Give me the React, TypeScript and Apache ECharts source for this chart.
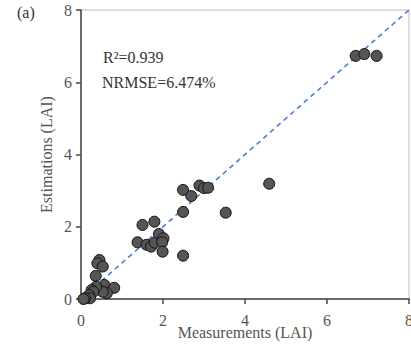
import React, { useEffect, useRef } from "react";
import * as echarts from "echarts";

const measurements = [6.70, 6.91, 7.21, 4.59, 3.53, 2.49, 2.69, 2.89, 3.00, 3.10, 2.49, 2.49, 1.50, 1.79, 1.38, 1.60, 1.71, 1.80, 1.90, 2.01, 1.98, 1.99, 0.45, 0.40, 0.53, 0.36, 0.57, 0.81, 0.63, 0.53, 0.37, 0.26, 0.30, 0.20, 0.22, 0.10, 0.06];
const estimations = [6.73, 6.78, 6.73, 3.19, 2.39, 3.02, 2.85, 3.14, 3.07, 3.08, 2.41, 1.20, 2.05, 2.14, 1.57, 1.50, 1.45, 1.56, 1.80, 1.68, 1.57, 1.31, 1.08, 0.99, 0.90, 0.64, 0.39, 0.31, 0.16, 0.20, 0.34, 0.25, 0.20, 0.11, 0.02, 0.02, 0.00];
const oneToOne = [0, 8];
const ticks = [0, 2, 4, 6, 8];
const statR2 = "R²=0.939";
const statNRMSE = "NRMSE=6.474%";
const panelLabel = "(a)";

const FONT = "'Liberation Serif', 'Times New Roman', serif";

export default function App() {
  const ref = useRef<HTMLDivElement>(null);
  useEffect(() => {
    if (!ref.current) return;
    const chart = echarts.init(ref.current, undefined, { renderer: "svg" });
    const axisCommon = {
      type: "value",
      min: ticks[0],
      max: ticks[ticks.length - 1],
      interval: 2,
      nameLocation: "middle",
      nameMoveOverlap: false,
      nameTextStyle: { fontFamily: FONT, fontSize: 16, color: "#555" },
      axisLine: { show: true, onZero: false, lineStyle: { color: "#444", width: 1.5 } },
      axisTick: { show: true, inside: false, length: 5, lineStyle: { color: "#444", width: 1.5 } },
      axisLabel: { fontFamily: FONT, fontSize: 16, color: "#555" },
      splitLine: { show: false },
    };
    chart.setOption({
      animation: false,
      backgroundColor: "#fff",
      grid: {
        left: 81, right: 2, top: 10, bottom: 47,
        containLabel: false, outerBoundsMode: "none",
        show: true, borderColor: "#bbb", borderWidth: 1,
      },
      xAxis: { ...axisCommon, name: "Measurements (LAI)", nameGap: 25, axisLabel: { ...axisCommon.axisLabel, margin: 13 } },
      yAxis: { ...axisCommon, name: "Estimations (LAI)", nameGap: 27, axisLabel: { ...axisCommon.axisLabel, margin: 9 } },
      series: [
        {
          type: "line",
          data: oneToOne.map((v) => [v, v]),
          symbol: "none",
          lineStyle: { color: "#4a7fd4", width: 1.6, type: [5, 4] },
          z: 1,
        },
        {
          type: "scatter",
          data: measurements.map((m, i) => [m, estimations[i]]),
          symbolSize: 11,
          itemStyle: { color: "#555", borderColor: "#111", borderWidth: 1, opacity: 1 },
          z: 2,
        },
      ],
      graphic: [
        { type: "text", left: 17, top: 4, style: { text: panelLabel, font: `16px ${FONT}`, fill: "#333" } },
        { type: "text", left: 103, top: 49, style: { text: statR2, font: `16px ${FONT}`, fill: "#333" } },
        { type: "text", left: 102, top: 74, style: { text: statNRMSE, font: `16px ${FONT}`, fill: "#333" } },
      ],
    });
    return () => chart.dispose();
  }, []);
  return <div ref={ref} style={{ width: 411, height: 346, position: "absolute", left: 0, top: 0 }} />;
}
